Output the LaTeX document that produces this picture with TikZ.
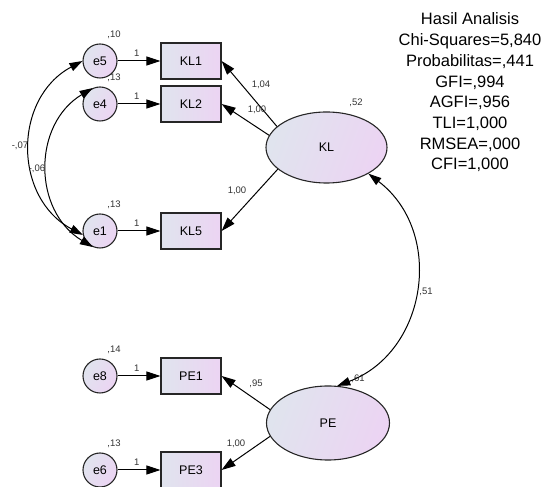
\documentclass[tikz,border=0pt]{standalone}
\usepackage{fontspec}
\setmainfont{Liberation Sans}
\usetikzlibrary{arrows.meta,shapes.geometric,positioning,calc}
\definecolor{amosblue}{RGB}{224,228,238}
\definecolor{amospink}{RGB}{236,212,243}
\tikzset{
every picture/.style={
line width=1pt
}}
\tikzset{
obs/.style={
  draw=black!85, line width=1.2pt,
  minimum width=60pt, minimum height=36pt, inner sep=0pt,
  left color=amosblue, right color=amospink,
  font=\fontsize{12.5}{14}\selectfont
  },
err/.style={
  circle, draw=black!85, line width=1.1pt,
  minimum size=34pt, inner sep=0pt,
  left color=amosblue, right color=amospink, shading angle=60,
  font=\fontsize{12.5}{14}\selectfont
  },
lat/.style={
  ellipse, draw=black!85, line width=1.1pt,
  minimum width=121pt, minimum height=71pt, inner sep=0pt,
  left color=amosblue, right color=amospink, shading angle=70,
  font=\fontsize{12.5}{14}\selectfont
  },
load/.style={-{Triangle[length=14pt,width=9pt]}},
cov/.style={{Triangle[length=13pt,width=8.5pt]}-{Triangle[length=13pt,width=8.5pt]}},
num/.style={
  inner sep=0pt, text=black!80,
  font=\fontsize{9.5}{11}\selectfont
  }
}
\begin{document}
\begin{tikzpicture}[x=1pt,y=1pt]
  \useasboundingbox (0,0) rectangle (547,487);

  \node [lat] (KL) at (326.5,339.5) {KL};
  \node [lat, minimum width=123pt, minimum height=74pt] (PE) at (328,64) {PE};

  \foreach \e/\b/\y/\v in {e5/KL1/426/{,10}, e4/KL2/383/{,13}, e1/KL5/256/{,13}, e8/PE1/111/{,14}, e6/PE3/17/{,13}} {
    \node [err] (\e) at (100,\y) {\e};
    \node [obs] (\b) at (191,\y) {\b};
    \node [num] (v-\e) at ($(\e)+(14,26)$) {\v};
    \draw [load] (\e) -- node[num, pos=0.45, above=4pt] (w-\e) {1} (\b);
  }

  \draw [load] (KL.157) -- (KL1.east);
  \draw [load] (KL.168) -- (KL2.east);
  \draw [load] (KL.204) -- (KL5.east);
  \draw [load] (PE.167) -- (PE1.east);
  \draw [load] (PE.193) -- (PE3.east);

  \node [num] (l-kl1) at (261,402) {1,04};
  \node [num] (l-kl2) at (257,377) {1,00};
  \node [num] (l-kl5) at (237,296) {1,00};
  \node [num] (l-pe1) at (256,103) {,95};
  \node [num] (l-pe3) at (236,43) {1,00};
  \node [num] (v-kl) at (356,384) {,52};
  \node [num] (v-pe) at (358,108) {,61};

  \draw [cov] (KL.-32) to[bend left=61, looseness=1.15] (PE.76);
  \draw [cov] (e5.west) to[bend right=62, looseness=1.16] (e1.193);
  \draw [cov] (e4.115) to[bend right=59, looseness=1.13] (e1.246);

  \node [num] (c-kp) at (426,195) {,51};
  \node [num] (c-51) at (20,341) {-,07};
  \node [num] (c-41) at (37,318) {-,06};

  \node [align=center, font=\fontsize{16.5}{20.7}\selectfont] (fit) at (470,394.5)
    {Hasil Analisis\\Chi-Squares=5,840\\Probabilitas=,441\\GFI=,994\\AGFI=,956\\TLI=1,000\\RMSEA=,000\\CFI=1,000};
\end{tikzpicture}
\end{document}
